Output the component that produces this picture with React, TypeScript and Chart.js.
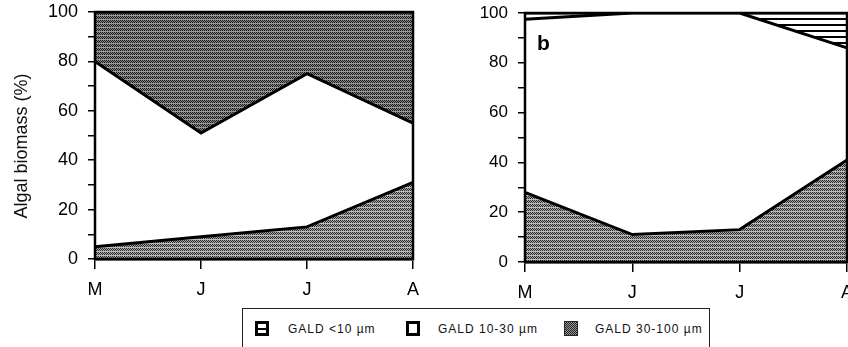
import React, { useEffect, useRef } from 'react';
import { Chart, registerables } from 'chart.js';

Chart.register(...registerables);

// ---------- data ----------
const months = ['M', 'J', 'J', 'A'];
const yMin = 0;
const yMax = 100;
const yStep = 10;
const yLabelEvery = 20;

// Panel a: cumulative boundaries (%)
const aGald30to100 = [5, 9, 13, 31];
const aGald10to30Top = [80, 51, 75, 55];
const aTopBoundary = [100, 100, 100, 100];

// Panel b: cumulative boundaries (%)
const bGald30to100 = [28, 11, 13, 41];
const bGald10to30Top = [97.5, 100, 100, 86];
const bGaldLt10Top = [100, 100, 100, 100];

const yTitle = 'Algal biomass (%)';
const panelBLabel = 'b';
const legendLabels = ['GALD <10 \u00b5m', 'GALD 10-30 \u00b5m', 'GALD 30-100 \u00b5m'];

const FONT = "'Liberation Sans', Arial, Helvetica, sans-serif";

function makeStipple(ctx: CanvasRenderingContext2D, dark: string, light: string, line: string) {
  const c = document.createElement('canvas');
  c.width = 4;
  c.height = 4;
  const g = c.getContext('2d')!;
  for (let y = 0; y < 4; y++) {
    for (let x = 0; x < 4; x++) {
      g.fillStyle = y === 3 ? line : (x + y) % 2 === 0 ? dark : light;
      g.fillRect(x, y, 1, 1);
    }
  }
  return ctx.createPattern(c, 'repeat')!;
}

function makeStripes(ctx: CanvasRenderingContext2D) {
  const c = document.createElement('canvas');
  c.width = 4;
  c.height = 6;
  const g = c.getContext('2d')!;
  g.fillStyle = '#fff';
  g.fillRect(0, 0, 4, 6);
  g.fillStyle = '#000';
  g.fillRect(0, 0, 4, 2);
  return ctx.createPattern(c, 'repeat')!;
}

const framePlugin = {
  id: 'frame',
  afterDatasetsDraw(chart: any) {
    const { ctx, chartArea: a } = chart;
    ctx.save();
    ctx.strokeStyle = '#000';
    ctx.lineWidth = 2.5;
    ctx.strokeRect(a.left, a.top, a.right - a.left, a.bottom - a.top);
    ctx.restore();
  },
};

function makeOptions(axisWidth: number, axisHeight: number, padTop: number, padRight: number, tickFont: number) {
  return {
    responsive: false,
    animation: false as const,
    devicePixelRatio: 1,
    layout: { padding: { top: padTop, right: padRight, left: 0, bottom: 0 } },
    plugins: { legend: { display: false }, tooltip: { enabled: false } },
    elements: { point: { radius: 0 }, line: { tension: 0 } },
    scales: {
      x: {
        type: 'category' as const,
        offset: false,
        grid: { display: true, drawOnChartArea: false, drawTicks: true, tickLength: 10, color: '#000', lineWidth: 1.5 },
        border: { display: true, color: '#000', width: 2.5 },
        ticks: { color: '#000', font: { family: FONT, size: 18 }, padding: 10, maxRotation: 0, autoSkip: false },
        afterFit: (s: any) => {
          s.height = axisHeight;
          s.paddingLeft = 0;
          s.paddingRight = 0;
        },
      },
      y: {
        min: yMin,
        max: yMax,
        grid: { display: true, drawOnChartArea: false, drawTicks: true, tickLength: 7, color: '#000', lineWidth: 1.5 },
        border: { display: true, color: '#000', width: 2.5 },
        ticks: {
          stepSize: yStep,
          autoSkip: false,
          color: '#000',
          padding: 10,
          font: { family: FONT, size: tickFont },
          callback: (v: any) => (Number(v) % yLabelEvery === 0 ? String(v) : ''),
        },
        afterFit: (s: any) => {
          s.width = axisWidth;
          s.paddingTop = 0;
          s.paddingBottom = 0;
        },
      },
    },
  };
}

export default function App() {
  const leftRef = useRef<HTMLCanvasElement>(null);
  const rightRef = useRef<HTMLCanvasElement>(null);

  useEffect(() => {
    const lctx = leftRef.current!.getContext('2d')!;
    const rctx = rightRef.current!.getContext('2d')!;

    const lineStyle = { borderColor: '#000', borderWidth: 3, pointRadius: 0 };

    const titlePlugin = {
      id: 'ytitle',
      afterDraw(chart: any) {
        const ctx = chart.ctx;
        ctx.save();
        ctx.translate(22, 146);
        ctx.rotate(-Math.PI / 2);
        ctx.fillStyle = '#111';
        ctx.font = `18px ${FONT}`;
        ctx.textAlign = 'center';
        ctx.textBaseline = 'middle';
        ctx.fillText(yTitle, 0, 0);
        ctx.restore();
      },
    };

    const bPlugin = {
      id: 'blabel',
      afterDraw(chart: any) {
        const ctx = chart.ctx;
        const a = chart.chartArea;
        ctx.save();
        ctx.fillStyle = '#000';
        ctx.font = `bold 21px ${FONT}`;
        ctx.textAlign = 'left';
        ctx.textBaseline = 'alphabetic';
        ctx.fillText(panelBLabel, a.left + 12, a.top + 37);
        ctx.restore();
      },
    };

    const left = new Chart(lctx, {
      type: 'line',
      data: {
        labels: months,
        datasets: [
          { label: 'GALD 30-100', data: aGald30to100, fill: 'origin', backgroundColor: makeStipple(lctx, '#2a2a2a', '#a8a8a8', '#bdbdbd'), ...lineStyle },
          { label: 'GALD 10-30', data: aGald10to30Top, fill: '-1', backgroundColor: '#ffffff', ...lineStyle },
          { label: 'top', data: aTopBoundary, fill: '-1', backgroundColor: makeStipple(lctx, '#1a1a1a', '#888888', '#9a9a9a'), ...lineStyle },
        ],
      },
      options: makeOptions(95, 46, 12, 17, 18) as any,
      plugins: [framePlugin, titlePlugin],
    });

    const right = new Chart(rctx, {
      type: 'line',
      data: {
        labels: months,
        datasets: [
          { label: 'GALD 30-100', data: bGald30to100, fill: 'origin', backgroundColor: makeStipple(rctx, '#2a2a2a', '#a8a8a8', '#bdbdbd'), ...lineStyle },
          { label: 'GALD 10-30', data: bGald10to30Top, fill: '-1', backgroundColor: '#ffffff', ...lineStyle },
          { label: 'GALD <10', data: bGaldLt10Top, fill: '-1', backgroundColor: makeStripes(rctx), ...lineStyle },
        ],
      },
      options: makeOptions(95, 43, 13, 1, 17) as any,
      plugins: [framePlugin, bPlugin],
    });

    return () => {
      left.destroy();
      right.destroy();
    };
  }, []);

  const iconBase: React.CSSProperties = {
    position: 'absolute',
    top: 321,
    width: 14,
    height: 15,
    boxSizing: 'border-box',
  };
  const textBase: React.CSSProperties = {
    position: 'absolute',
    top: 323,
    fontFamily: FONT,
    fontSize: 12,
    lineHeight: '13px',
    letterSpacing: 1,
    color: '#111',
    whiteSpace: 'nowrap',
  };

  return (
    <div style={{ position: 'fixed', left: 0, top: 0, width: 848, height: 347, overflow: 'hidden', background: '#fff' }}>
      <canvas ref={leftRef} width={430} height={305} style={{ position: 'absolute', left: 0, top: 0 }} />
      <canvas ref={rightRef} width={418} height={305} style={{ position: 'absolute', left: 430, top: 0 }} />
      <div
        style={{
          position: 'absolute',
          left: 242,
          top: 308,
          width: 468,
          height: 60,
          border: '1.5px solid #222',
          boxSizing: 'border-box',
        }}
      />
      <div style={{ ...iconBase, left: 255, border: '3px solid #000', background: '#fff' }}>
        <div style={{ position: 'absolute', left: 0, right: 0, top: 4, height: 2, background: '#000' }} />
      </div>
      <span style={{ ...textBase, left: 288 }}>{legendLabels[0]}</span>
      <div style={{ ...iconBase, left: 406, border: '3px solid #000', background: '#fff' }} />
      <span style={{ ...textBase, left: 438 }}>{legendLabels[1]}</span>
      <div
        style={{
          ...iconBase,
          left: 564,
          border: '1px solid #222',
          background: 'repeating-conic-gradient(#222 0 25%, #999 0 50%) 0 0/2px 2px',
        }}
      />
      <span style={{ ...textBase, left: 595 }}>{legendLabels[2]}</span>
    </div>
  );
}
